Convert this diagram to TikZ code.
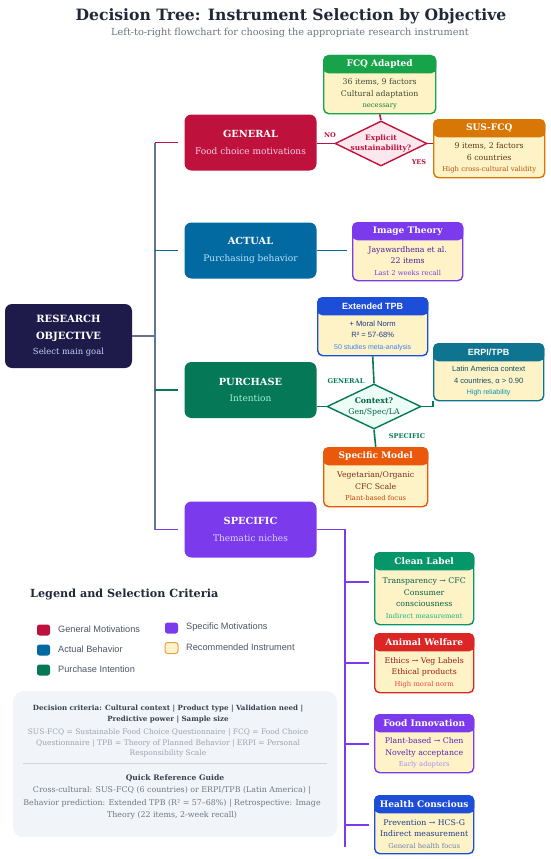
\documentclass[tikz,border=0pt]{standalone}
\usepackage{fontspec}
\setmainfont{DejaVu Serif}
\setsansfont{Liberation Sans}
\usetikzlibrary{positioning,calc,shapes.geometric}

\definecolor{titleC}{HTML}{1F2937}
\definecolor{subC}{HTML}{6B7280}
\definecolor{navy}{HTML}{1E1B4B}
\definecolor{navyL}{HTML}{C7D2FE}
\definecolor{crim}{HTML}{BE123C}
\definecolor{crimL}{HTML}{FBCFE8}
\definecolor{crimP}{HTML}{FCE7EF}
\definecolor{actC}{HTML}{0369A1}
\definecolor{actL}{HTML}{BAE6FD}
\definecolor{purC}{HTML}{047857}
\definecolor{purL}{HTML}{A7F3D0}
\definecolor{purP}{HTML}{ECFDF5}
\definecolor{spcC}{HTML}{7C3AED}
\definecolor{spcL}{HTML}{DDD6FE}
\definecolor{trunkC}{HTML}{64748B}
\definecolor{cream}{HTML}{FEF3C7}
\definecolor{fcqC}{HTML}{16A34A}
\definecolor{fcqT}{HTML}{3F4A2E}
\definecolor{fcqS}{HTML}{15803D}
\definecolor{susC}{HTML}{D97706}
\definecolor{susT}{HTML}{5B3A12}
\definecolor{susS}{HTML}{B45309}
\definecolor{imgT}{HTML}{4C1D95}
\definecolor{imgS}{HTML}{7C3AED}
\definecolor{tpbC}{HTML}{1D4ED8}
\definecolor{tpbT}{HTML}{1E3A8A}
\definecolor{tpbS}{HTML}{3B82F6}
\definecolor{erpC}{HTML}{0E7490}
\definecolor{erpT}{HTML}{164E63}
\definecolor{erpS}{HTML}{0891B2}
\definecolor{smC}{HTML}{EA580C}
\definecolor{smT}{HTML}{7C2D12}
\definecolor{smS}{HTML}{C2410C}
\definecolor{clnC}{HTML}{059669}
\definecolor{clnT}{HTML}{065F46}
\definecolor{clnS}{HTML}{10B981}
\definecolor{anmC}{HTML}{DC2626}
\definecolor{anmT}{HTML}{991B1B}
\definecolor{anmS}{HTML}{EF4444}
\definecolor{invT}{HTML}{5B21B6}
\definecolor{invS}{HTML}{A78BFA}
\definecolor{hltT}{HTML}{1E3A8A}
\definecolor{hltS}{HTML}{6B7FA8}
\definecolor{legC}{HTML}{4B5563}
\definecolor{critBg}{HTML}{F1F5F9}
\definecolor{critT}{HTML}{374151}
\definecolor{critS}{HTML}{9CA3AF}
\definecolor{sepC}{HTML}{D1D5DB}

\newcommand{\fsz}[2]{\fontsize{#1}{#2}\selectfont}
\newcommand{\smallln}[2]{{\fsz{6.8}{8.5}\color{#1}#2}}
% name, x, y (top left), width, height, colour, title, text style, body
\newcommand{\instbox}[9]{%
  \node[ibody, draw=#6, minimum width=#4pt, minimum height=#5pt] (#1) at (#2,#3) {};
  \node[ihead, fill=#6, draw=#6, minimum width=#4pt] (#1H) at (#1.north) {#7};
  \node[itext, #8] (#1B) at ($(#1H.south)!.5!(#1.south)$) {#9};
}

\tikzset{
  catbox/.style={rounded corners=7pt, minimum width=132pt, minimum height=56pt,
                 align=center, text=white, inner sep=2pt},
  ibody/.style={anchor=north west, fill=cream, rounded corners=5pt, line width=1.4pt, inner sep=0pt},
  ihead/.style={anchor=north, rounded corners=5pt, line width=1.4pt, minimum height=17pt,
                inner sep=0pt, text=white, font=\bfseries\fsz{9}{11}},
  itext/.style={align=center, inner sep=0pt, font=\fsz{7.8}{11.5}},
  decide/.style={diamond, minimum width=92pt, minimum height=45pt, inner sep=0pt, line width=1.4pt},
  trunk/.style={line width=1.6pt, draw=trunkC},
  stub/.style={line width=1.6pt},
  blabel/.style={font=\bfseries\fsz{6.6}{8}, inner sep=0pt},
  swatch/.style={rounded corners=2.5pt, minimum width=13pt, minimum height=11pt, inner sep=0pt},
  legtext/.style={anchor=west, font=\sffamily\fsz{9.2}{11}, text=legC, inner sep=0pt}
}

\begin{document}
\begin{tikzpicture}[x=1pt, y=-1pt]
  \useasboundingbox (0,0) rectangle (550,859);

  % title
  \node[font=\bfseries\fsz{15.6}{18}, text=titleC] (title) at (291,16)
    {Decision Tree: Instrument Selection by Objective};
  \node[font=\fsz{9.7}{11}, text=subC] (subtitle) at (290,33)
    {Left-to-right flowchart for choosing the appropriate research instrument};

  % root and objectives
  \node[catbox, fill=navy, minimum width=127pt, minimum height=64pt] (root) at (68.5,336)
    {{\bfseries\fsz{10}{17}RESEARCH}\\[5pt]{\bfseries\fsz{10}{17}OBJECTIVE}\\[3pt]{\fsz{8.4}{15}\color{navyL}Select main goal}};
  \node[catbox, fill=crim] (general) at (250.5,142.5)
    {{\bfseries\fsz{9.8}{17}GENERAL}\\[4.5pt]{\fsz{9}{15}\color{crimL}Food choice motivations}};
  \node[catbox, fill=actC] (actual) at (250.5,250.5)
    {{\bfseries\fsz{9.8}{17}ACTUAL}\\[4.5pt]{\fsz{9}{15}\color{actL}Purchasing behavior}};
  \node[catbox, fill=purC] (purchase) at (250.5,390)
    {{\bfseries\fsz{9.8}{17}PURCHASE}\\[4.5pt]{\fsz{9}{15}\color{purL}Intention}};
  \node[catbox, fill=spcC] (specific) at (250.5,529.5)
    {{\bfseries\fsz{9.8}{17}SPECIFIC}\\[4.5pt]{\fsz{9}{15}\color{spcL}Thematic niches}};

  % trunk
  \coordinate (trunkTop) at (155,142.5);
  \coordinate (trunkBot) at (155,529.5);
  \draw[trunk] (trunkTop) -- (trunkBot);
  \draw[trunk] (root.east) -- (root.east -| trunkTop);
  \draw[stub, draw=crim] (trunkTop) -- ([xshift=-6pt]general.west);
  \draw[stub, draw=actC] (trunkTop |- actual.west) -- ([xshift=-6pt]actual.west);
  \draw[stub, draw=purC] (trunkTop |- purchase.west) -- ([xshift=-6pt]purchase.west);
  \draw[stub, draw=spcC] (trunkBot) -- ([xshift=-6pt]specific.west);

  % general branch
  \node[decide, draw=crim, fill=crimP] (qSust) at (381,143.5) {};
  \node[align=center, text=crim, font=\bfseries\fsz{7.4}{10}, inner sep=0pt] (qSustTxt) at (qSust.center)
    {Explicit\\sustainability?};
  \instbox{fcq}{323}{55}{112}{58}{fcqC}{FCQ Adapted}{text=fcqT}
    {36 items, 9 factors\\Cultural adaptation\\\smallln{fcqS}{necessary}}
  \instbox{sus}{433}{119}{111}{58}{susC}{SUS-FCQ}{text=susT}
    {9 items, 2 factors\\6 countries\\\smallln{susS}{High cross-cultural validity}}
  \draw[stub, draw=crim] (general.east |- qSust.west) -- (qSust.west);
  \draw[stub, draw=crim] (qSust.north) -- (fcq.south);
  \draw[stub, draw=crim] (qSust.east) -- (sus.west |- qSust.east);
  \node[blabel, text=crim] (noLbl) at (330,135) {NO};
  \node[blabel, text=crim] (yesLbl) at (419,162) {YES};

  % actual branch
  \instbox{imgt}{352}{222}{110}{58}{spcC}{Image Theory}{text=imgT}
    {Jayawardhena et al.\\22 items\\\smallln{imgS}{Last 2 weeks recall}}
  \draw[stub, draw=actC] (actual.east) -- ([xshift=-5pt]imgt.west |- actual.east);

  % purchase branch
  \node[decide, draw=purC, fill=purP, minimum width=94pt] (qCtx) at (374,406.5) {};
  \node[align=center, text=purC!80!black, font=\fsz{7.8}{11}, inner sep=0pt] (qCtxTxt) at (qCtx.center)
    {{\bfseries Context?}\\Gen/Spec/LA};
  \instbox{xtpb}{317}{297}{110}{58}{tpbC}{\sffamily Extended TPB}{text=tpbT, font=\sffamily\fsz{7.6}{11.5}}
    {+ Moral Norm\\R² = 57-68\%\\{\fsz{7}{8.5}\color{tpbS}50 studies meta-analysis}}
  \instbox{erpi}{433}{343}{110}{57}{erpC}{\sffamily ERPI/TPB}{text=erpT, font=\sffamily\fsz{7.6}{11.5}}
    {Latin America context\\4 countries, α > 0.90\\{\fsz{7}{8.5}\color{erpS}High reliability}}
  \instbox{spmod}{323}{447}{104}{59}{smC}{Specific Model}{text=smT}
    {Vegetarian/Organic\\CFC Scale\\\smallln{smS}{Plant-based focus}}
  \draw[stub, draw=purC] (purchase.east |- qCtx.west) -- (qCtx.west);
  \draw[stub, draw=purC] (qCtx.north) -- (xtpb.south);
  \draw[stub, draw=purC] (qCtx.east) -| (erpi.south west);
  \draw[stub, draw=purC] (qCtx.south) -- (spmod.north);
  \node[blabel, text=purC] (genLbl) at (346,381) {GENERAL};
  \node[blabel, text=purC] (specLbl) at (407,436) {SPECIFIC};

  % specific branch
  \instbox{clean}{374}{552}{99}{72}{clnC}{Clean Label}{text=clnT}
    {Transparency → CFC\\Consumer\\consciousness\\\smallln{clnS}{Indirect measurement}}
  \instbox{animal}{374}{633}{99}{59}{anmC}{Animal Welfare}{text=anmT}
    {Ethics → Veg Labels\\Ethical products\\\smallln{anmS}{High moral norm}}
  \instbox{innov}{374}{714}{99}{58}{spcC}{Food Innovation}{text=invT}
    {Plant-based → Chen\\Novelty acceptance\\\smallln{invS}{Early adopters}}
  \instbox{health}{374}{795}{99}{58}{tpbC}{Health Conscious}{text=hltT}
    {Prevention → HCS-G\\Indirect measurement\\\smallln{hltS}{General health focus}}
  \coordinate (nicheTop) at (345,529.5);
  \coordinate (nicheBot) at (345,847);
  \draw[stub, draw=spcC] (specific.east) -- (nicheTop) -- (nicheBot);
  \draw[stub, draw=spcC] (nicheTop |- 0,582) -- (369,582);
  \foreach \n in {animal,innov,health}
    \draw[stub, draw=spcC] (nicheTop |- \n.west) -- ([xshift=-5pt]\n.west);

  % legend
  \node[anchor=west, font=\bfseries\fsz{11.2}{13}, text=titleC, inner sep=0pt] (legTitle) at (30,594)
    {Legend and Selection Criteria};
  \node[swatch, fill=crim] (swGen) at (43.5,630) {};
  \node[swatch, fill=actC] (swAct) at (43.5,650) {};
  \node[swatch, fill=purC] (swPur) at (43.5,670) {};
  \node[swatch, fill=spcC] (swSpc) at (171.5,628) {};
  \node[swatch, fill=cream, draw=susC!70, line width=1pt] (swIns) at (171.5,648) {};
  \node[legtext] (lgGen) at (58,629) {General Motivations};
  \node[legtext] (lgAct) at (58,649) {Actual Behavior};
  \node[legtext] (lgPur) at (58,669) {Purchase Intention};
  \node[legtext] (lgSpc) at (186,627) {Specific Motivations};
  \node[legtext] (lgIns) at (186,647) {Recommended Instrument};

  % criteria panel
  \node[fill=critBg, rounded corners=10pt, minimum width=324pt, minimum height=146pt,
        anchor=north west, inner sep=0pt] (crit) at (13,691) {};
  \node[align=center, text=critT, font=\bfseries\fsz{7.1}{11}, inner sep=0pt] (critA) at (168,714.5)
    {Decision criteria: Cultural context | Product type | Validation need |\\Predictive power | Sample size};
  \node[align=center, text=critS, font=\fsz{7.5}{10.5}, inner sep=0pt] (critB) at (168,743)
    {SUS-FCQ = Sustainable Food Choice Questionnaire | FCQ = Food Choice\\Questionnaire | TPB = Theory of Planned Behavior | ERPI = Personal\\Responsibility Scale};
  \draw[sepC, line width=0.6pt] (23,763) -- (327,763);
  \node[text=critT, font=\bfseries\fsz{7.6}{11}, inner sep=0pt] (critC) at (175,778)
    {Quick Reference Guide};
  \node[align=center, text=legC!80, font=\fsz{7.9}{12.5}, inner sep=0pt] (critD) at (172,803)
    {Cross-cultural: SUS-FCQ (6 countries) or ERPI/TPB (Latin America) |\\Behavior prediction: Extended TPB (R² = 57–68\%) | Retrospective: Image\\Theory (22 items, 2-week recall)};
\end{tikzpicture}
\end{document}
